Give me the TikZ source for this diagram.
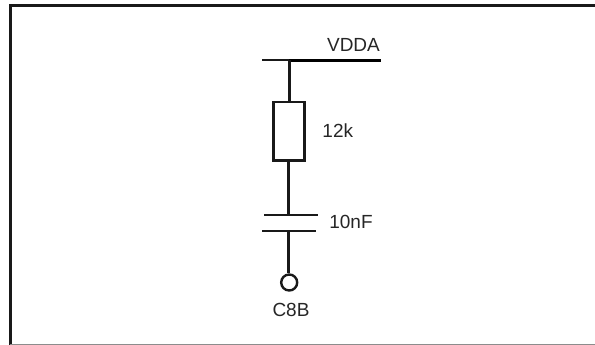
\documentclass[tikz,border=0pt]{standalone}
\usepackage{fontspec}
\setmainfont{Liberation Sans}
\tikzset{
  wire/.style={line width=2.4pt,black!90},
  plate/.style={line width=2.3pt,black!90},
  label/.style={inner sep=0pt,font=\fontsize{19}{22}\selectfont,text=black!85},
  resistor/.style={draw=black!90,line width=2.7pt,fill=white,minimum width=30.5pt,minimum height=58.5pt,inner sep=0pt},
  terminal/.style={circle,draw=black!90,line width=2.4pt,fill=white,minimum size=16pt,inner sep=0pt}
}
\begin{document}
\begin{tikzpicture}
  [x=1pt,y=-1pt]
  \useasboundingbox (0,0) rectangle (595,345);
  % frame
  \coordinate (tl) at (10.3,5.3);
  \coordinate (tr) at (595,5.3);
  \coordinate (bl) at (10.3,345);
  \coordinate (gl) at (10.3,344.5);
  \coordinate (br) at (595,344.5);
  \draw[line width=2.5pt,black!90] (bl) -- (tl) -- (tr);
  \draw[line width=1.2pt,black!45] (gl) -- (br);

  \coordinate (busl) at (262.3,60.3);
  \coordinate (busj) at (289.3,60.3);
  \coordinate (busr) at (381,60.3);
  \node[resistor] (r1) at (289,131.3) {};
  \coordinate (c1l) at (264.3,214.7);
  \coordinate (c1m) at (288.4,214.7);
  \coordinate (c1r) at (318.3,214.7);
  \coordinate (c2l) at (262,231.3);
  \coordinate (c2m) at (288.4,231.3);
  \coordinate (c2r) at (316,231.3);
  \node[terminal] (t1) at (289.2,282.5) {};

  \draw[line width=2.3pt,black!90] (busl) -- (busj);
  \draw[line width=3pt,black] (busj) -- (busr);
  \draw[wire] (busj) -- (busj |- r1.north);
  \draw[wire] (c1m |- r1.south) -- (c1m);
  \draw[wire] (c2m) -- (c2m |- t1.north);
  \foreach \from/\to in {c1l/c1r,c2l/c2r}
    \draw[plate] (\from) -- (\to);

  \node[label] (vdda) at (353.5,44.5) {VDDA};
  \node[label] (rval) at (337.8,130.3) {12k};
  \node[label] (cval) at (351,222) {10nF};
  \node[label] (c8b) at (291,310) {C8B};
\end{tikzpicture}
\end{document}
